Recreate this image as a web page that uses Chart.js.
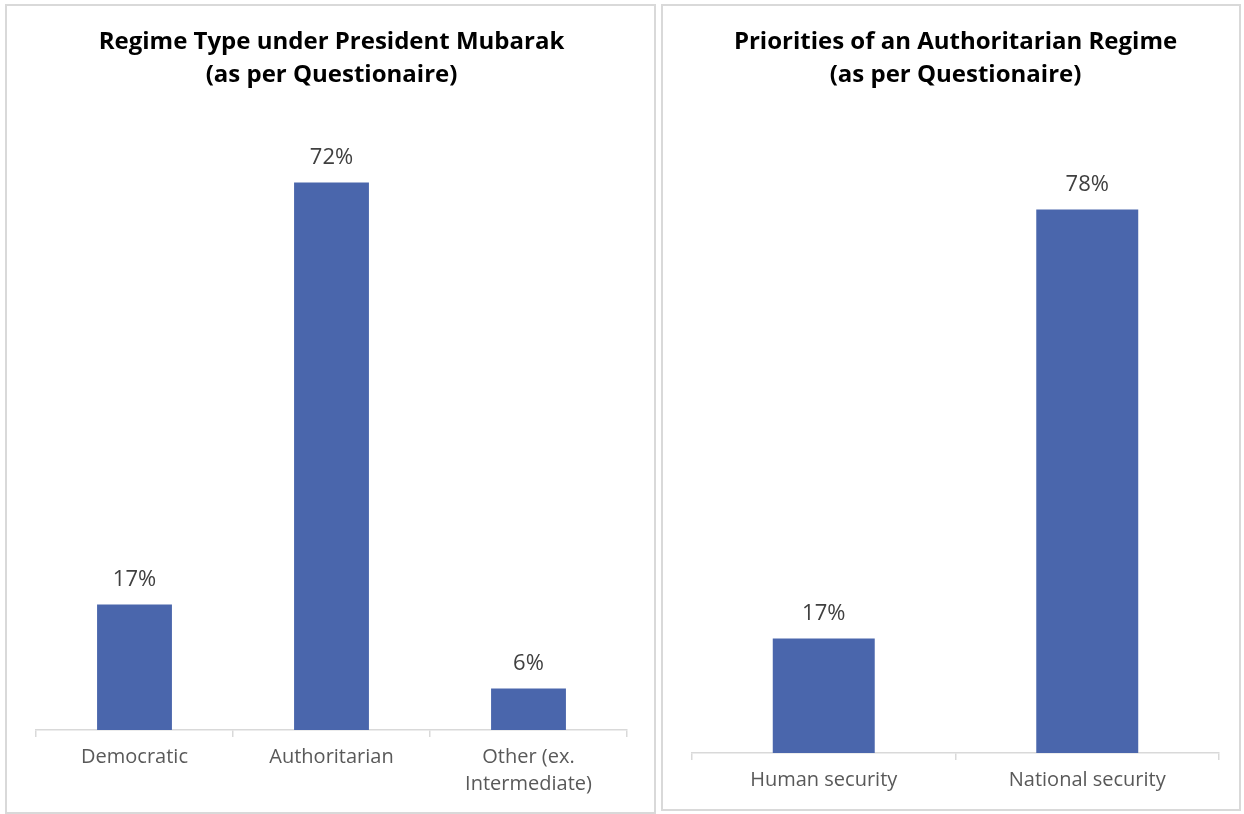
<!DOCTYPE html>
<html>
<head>
<meta charset="utf-8">
<script src="https://cdn.jsdelivr.net/npm/chart.js@4/dist/chart.umd.min.js"></script>
<style>
  html,body{margin:0;padding:0;background:#fff;width:1244px;height:814px;overflow:hidden;}
  .panel{position:absolute;border:2px solid #d9d9d9;box-sizing:border-box;background:#fff;}
  .panel canvas{position:absolute;left:0;top:0;}
</style>
</head>
<body>
<div class="panel" id="p1" style="left:5px;top:4px;width:651px;height:810px;"><canvas id="c1" width="647" height="806"></canvas></div>
<div class="panel" id="p2" style="left:661px;top:4px;width:580px;height:807px;"><canvas id="c2" width="576" height="803"></canvas></div>
<script>
// ---- data ----
const regimeCategories = ['Democratic', 'Authoritarian', ['Other (ex.', 'Intermediate)']];
const regimeValues = [16.6, 72.4, 5.5];
const priorityCategories = ['Human security', 'National security'];
const priorityValues = [16.5, 78.4];
const regimeTitle = ['Regime Type under President Mubarak', '(as per Questionaire)'];
const priorityTitle = ['Priorities of an Authoritarian Regime', '(as per Questionaire)'];

const FONT = "'Open Sans', 'Noto Sans', sans-serif";
const BAR = '#4A66AC';

const valueLabels = {
  id: 'valueLabels',
  afterDatasetsDraw(chart) {
    const ctx = chart.ctx;
    const meta = chart.getDatasetMeta(0);
    ctx.save();
    ctx.font = '22px ' + FONT;
    ctx.fillStyle = '#404040';
    ctx.textAlign = 'center';
    ctx.textBaseline = 'middle';
    meta.data.forEach((bar, i) => {
      const v = chart.data.datasets[0].data[i];
      ctx.fillText(Math.round(v) + '%', bar.x, bar.y - 25);
    });
    ctx.restore();
  }
};

function makeChart(id, cats, vals, title, opts) {
  return new Chart(document.getElementById(id), {
    type: 'bar',
    data: {
      labels: cats,
      datasets: [{
        data: vals,
        backgroundColor: BAR,
        borderWidth: 0,
        categoryPercentage: 1,
        barPercentage: opts.barPct
      }]
    },
    options: {
      responsive: false,
      animation: false,
      layout: { padding: opts.padding },
      plugins: {
        legend: { display: false },
        tooltip: { enabled: false },
        title: {
          display: true,
          text: title,
          color: '#000',
          font: { family: FONT, size: 24, weight: 'bold', lineHeight: 1.375 },
          padding: opts.titlePad
        }
      },
      scales: {
        y: { display: false, min: 0, max: opts.ymax },
        x: {
          border: { color: '#d9d9d9', width: 1.5 },
          grid: { offset: true, drawOnChartArea: false, tickLength: 7, color: '#d9d9d9', lineWidth: 1.5 },
          ticks: {
            color: '#595959',
            font: { family: FONT, size: 20, lineHeight: 1.35 },
            padding: 7,
            maxRotation: 0,
            autoSkip: false
          }
        }
      }
    },
    plugins: [valueLabels]
  });
}

makeChart('c1', regimeCategories, regimeValues, regimeTitle, {
  barPct: 0.38, ymax: 80,
  padding: { left: 29, right: 27, top: 0, bottom: 7 },
  titlePad: { top: 20, bottom: 33 }
});
makeChart('c2', priorityCategories, priorityValues, priorityTitle, {
  barPct: 0.387, ymax: 90,
  padding: { left: 29, right: 20, top: 0, bottom: 8 },
  titlePad: { top: 20, bottom: 37 }
});
</script>
</body>
</html>
